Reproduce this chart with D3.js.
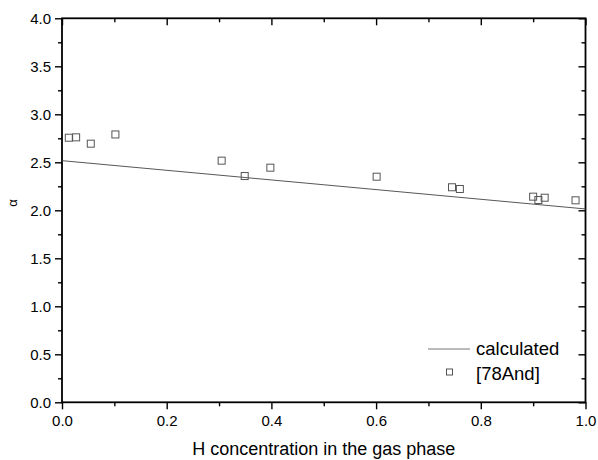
<!DOCTYPE html>
<html><head><meta charset="utf-8">
<script src="https://cdn.jsdelivr.net/npm/d3@7"></script>
<style>body{margin:0;background:#fff}svg{display:block;font-family:Arial,"Liberation Sans",sans-serif}</style>
</head><body><svg id="c" width="598" height="460"></svg>
<script>
const expX = [0.013, 0.027, 0.055, 0.102, 0.305, 0.349, 0.398, 0.601, 0.745, 0.760, 0.900, 0.910, 0.922, 0.981];
const expY = [2.756, 2.76, 2.694, 2.79, 2.517, 2.357, 2.444, 2.35, 2.24, 2.222, 2.142, 2.107, 2.131, 2.104];
const calcX = [0.0, 0.5, 1.0];
const calcY = [2.517, 2.266, 2.014];
const xMajor = [0, 0.2, 0.4, 0.6, 0.8, 1.0];
const xMinor = [0.1, 0.3, 0.5, 0.7, 0.9];
const yMajor = [0, 0.5, 1.0, 1.5, 2.0, 2.5, 3.0, 3.5, 4.0];
const yMinor = [0.25, 0.75, 1.25, 1.75, 2.25, 2.75, 3.25, 3.75];
const legendLabels = ["calculated", "[78And]"];

const svg = d3.select("#c");
const L = 62, R = 585.5, T = 18.3, B = 402.3;
const x = d3.scaleLinear().domain([0, 1]).range([L, R]);
const y = d3.scaleLinear().domain([0, 4]).range([B, T]);
const fmt = d3.format(".1f");

function styleAxis(g) {
  g.select(".domain").remove();
  g.selectAll(".tick line").attr("stroke", "#000").attr("stroke-width", 1.4);
  g.selectAll(".tick text").attr("font-size", 15).attr("fill", "#000").attr("font-family", "Arial, 'Liberation Sans', sans-serif");
}
// bottom
svg.append("g").attr("transform", `translate(0,${B})`)
  .call(d3.axisBottom(x).tickValues(xMajor).tickFormat(fmt).tickSize(7).tickPadding(6)).call(styleAxis);
svg.append("g").attr("transform", `translate(0,${B})`)
  .call(d3.axisBottom(x).tickValues(xMinor).tickFormat("").tickSize(4)).call(styleAxis);
// top
svg.append("g").attr("transform", `translate(0,${T})`)
  .call(d3.axisBottom(x).tickValues(xMajor).tickFormat("").tickSize(7)).call(styleAxis);
svg.append("g").attr("transform", `translate(0,${T})`)
  .call(d3.axisBottom(x).tickValues(xMinor).tickFormat("").tickSize(4)).call(styleAxis);
// left
svg.append("g").attr("transform", `translate(${L},0)`)
  .call(d3.axisLeft(y).tickValues(yMajor).tickFormat(fmt).tickSize(7).tickPadding(4)).call(styleAxis);
svg.append("g").attr("transform", `translate(${L},0)`)
  .call(d3.axisLeft(y).tickValues(yMinor).tickFormat("").tickSize(4)).call(styleAxis);
// right
svg.append("g").attr("transform", `translate(${R},0)`)
  .call(d3.axisLeft(y).tickValues(yMajor).tickFormat("").tickSize(7)).call(styleAxis);
svg.append("g").attr("transform", `translate(${R},0)`)
  .call(d3.axisLeft(y).tickValues(yMinor).tickFormat("").tickSize(4)).call(styleAxis);

// frame
svg.append("rect").attr("x", L).attr("y", T).attr("width", R - L).attr("height", B - T)
  .attr("fill", "none").attr("stroke", "#000").attr("stroke-width", 1.8);

// calculated line
const line = d3.line().x(d => x(d[0])).y(d => y(d[1]));
svg.append("path").datum(d3.zip(calcX, calcY)).attr("d", line)
  .attr("fill", "none").attr("stroke", "#444").attr("stroke-width", 0.9);

// experimental points
svg.append("g").selectAll("rect").data(d3.zip(expX, expY)).join("rect")
  .attr("x", d => x(d[0]) - 3.5).attr("y", d => y(d[1]) - 3.5)
  .attr("width", 7).attr("height", 7)
  .attr("fill", "none").attr("stroke", "#555").attr("stroke-width", 1);

// legend
svg.append("line").attr("x1", 428).attr("x2", 470).attr("y1", 349).attr("y2", 349)
  .attr("stroke", "#666").attr("stroke-width", 0.9);
svg.append("rect").attr("x", 446.5).attr("y", 369).attr("width", 6).attr("height", 6)
  .attr("fill", "none").attr("stroke", "#555").attr("stroke-width", 1);
svg.append("text").attr("x", 476).attr("y", 355).attr("font-size", 18.5).text(legendLabels[0]);
svg.append("text").attr("x", 476).attr("y", 380).attr("font-size", 18.5).text(legendLabels[1]);

// axis titles
svg.append("text").attr("x", (L + R) / 2).attr("y", 455).attr("text-anchor", "middle")
  .attr("font-size", 18).text("H concentration in the gas phase");
svg.append("text").attr("transform", `translate(17,${203}) rotate(-90)`).attr("text-anchor", "middle")
  .attr("font-size", 13).text("α");
</script></body></html>
